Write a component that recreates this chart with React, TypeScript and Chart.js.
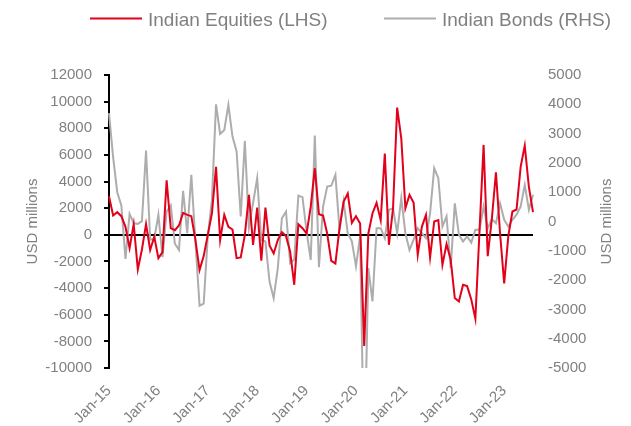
import React, { useEffect, useRef } from "react";
import { Chart, registerables } from "chart.js";

Chart.register(...registerables);

// ---- Data ----
const yearSuffixes = ["15", "16", "17", "18", "19", "20", "21", "22", "23"];
const monthNames = ["Jan", "Feb", "Mar", "Apr", "May", "Jun", "Jul", "Aug", "Sep", "Oct", "Nov", "Dec"];
const allMonths: string[] = [];
for (const y of yearSuffixes) for (const m of monthNames) allMonths.push(`${m}-${y}`);
// Jan-15 .. Aug-23
const categories: string[] = allMonths.slice(0, 104);

const equitiesLabel = "Indian Equities (LHS)";
const bondsLabel = "Indian Bonds (RHS)";
const axisTitle = "USD millions";

const indianEquities: number[] = [
  2900, 1450, 1700, 1400, 600, -1000, 800, -2600, -1100, 800, -1150, -150,
  -1750, -1300, 4100, 500, 350, 700, 1650, 1500, 1400, -400, -2650, -1600,
  0, 1600, 5100, -400, 1500, 600, 400, -1750, -1700, 0, 3000, -750,
  2050, -1950, 2050, -800, -1400, -400, 200, -100, -1250, -3750, 800, 500,
  100, 2100, 5000, 1550, 1450, 100, -1950, -2150, 500, 2500, 3100, 900,
  1400, 850, -8350, 100, 1600, 2400, 1100, 6100, -750, 2000, 9550, 7250,
  2000, 3000, 2400, -1500, 600, 1500, -1700, 1000, 1100, -2250, -700, -1850,
  -4750, -5000, -3750, -3850, -4850, -6300, 250, 6750, -1600, 1200, 4700, 100,
  -3650, -100, 1750, 1900, 5100, 6700, 3600, 1700,
];

const indianBonds: number[] = [
  3700, 2200, 1000, 550, -1280, 260, -60, -80, 10, 2420, -620, -590,
  230, -1220, 340, 550, -760, -970, 1050, -400, 1590, -700, -2870, -2800,
  -500, 740, 4000, 2990, 3120, 3980, 2900, 2390, 170, 2750, -200, 630,
  1480, -630, -680, -2050, -2620, -1600, 110, 340, -1420, -1300, 880, 830,
  -340, -1310, 2930, -1560, 510, 1190, 1220, 1590, -280, 680, -400, -680,
  -1530, -500, -8500, -1590, -2730, -230, -230, -570, 400, 450, -400, 800,
  -400, -970, -620, -230, -400, -570, 280, 1820, 1480, -170, 170, -1590,
  620, -450, -680, -510, -720, -280, -280, 510, -230, 80, -60, 620,
  60, -170, 60, 230, 510, 1250, 400, 910,
];

const leftTicks = { min: -10000, max: 12000, step: 2000 };
const rightTicks = { min: -5000, max: 5000, step: 1000 };

// ---- Styles ----
const RED = "#E2001A";
const GREY = "#ADADAD";
const TEXT = "#808080";
const FONT_FAMILY = "'Liberation Sans', Arial, Helvetica, sans-serif";

const legendPlugin = {
  id: "customLegend",
  afterDraw(chart: any) {
    const ctx = chart.ctx as CanvasRenderingContext2D;
    const items = [
      { ds: 0, lineX: 90, textX: 148 },
      { ds: 1, lineX: 384, textX: 442 },
    ];
    ctx.save();
    for (const it of items) {
      const ds = chart.data.datasets[it.ds];
      ctx.strokeStyle = ds.borderColor;
      ctx.lineWidth = 2;
      ctx.beginPath();
      ctx.moveTo(it.lineX, 18.5);
      ctx.lineTo(it.lineX + 52, 18.5);
      ctx.stroke();
      ctx.fillStyle = TEXT;
      ctx.font = `19px ${FONT_FAMILY}`;
      ctx.textBaseline = "alphabetic";
      ctx.textAlign = "left";
      ctx.fillText(ds.label, it.textX, 26);
    }
    // right axis title, reading bottom-to-top like the left one
    const area = chart.chartArea;
    ctx.translate(607, (area.top + area.bottom) / 2);
    ctx.rotate(-Math.PI / 2);
    ctx.font = `15px ${FONT_FAMILY}`;
    ctx.textAlign = "center";
    ctx.textBaseline = "middle";
    ctx.fillText(axisTitle, 0, 0);
    ctx.restore();
  },
};

const plain = (v: any) => String(v);

export default function App() {
  const canvasRef = useRef<HTMLCanvasElement | null>(null);

  useEffect(() => {
    if (!canvasRef.current) return;
    const tickFont = { family: FONT_FAMILY, size: 15 };
    const chart = new Chart(canvasRef.current, {
      type: "line",
      data: {
        labels: categories,
        datasets: [
          {
            label: equitiesLabel,
            data: indianEquities,
            borderColor: RED,
            backgroundColor: RED,
            borderWidth: 2,
            pointRadius: 0,
            tension: 0,
            yAxisID: "y",
          },
          {
            label: bondsLabel,
            data: indianBonds,
            borderColor: GREY,
            backgroundColor: GREY,
            borderWidth: 2,
            pointRadius: 0,
            tension: 0,
            yAxisID: "y1",
          },
        ],
      },
      options: {
        responsive: false,
        animation: false,
        events: [],
        layout: { padding: { top: 75, left: 0, right: 0, bottom: 0 } },
        plugins: {
          legend: { display: false },
          tooltip: { enabled: false },
        },
        scales: {
          x: {
            type: "category",
            offset: false,
            grid: { display: false, drawTicks: false },
            border: { display: false },
            ticks: {
              autoSkip: false,
              maxRotation: 45,
              minRotation: 45,
              padding: 14,
              font: tickFont,
              color: TEXT,
              callback: (_v: any, index: number) => {
                const l = categories[index];
                return l && l.startsWith("Jan") ? l : null;
              },
            },
            afterFit: (s: any) => {
              s.height = 58;
            },
          },
          y: {
            position: "left",
            min: leftTicks.min,
            max: leftTicks.max,
            ticks: {
              stepSize: leftTicks.step,
              padding: 12,
              font: tickFont,
              color: TEXT,
              callback: plain,
            },
            grid: {
              drawOnChartArea: true,
              drawTicks: true,
              tickLength: 5,
              lineWidth: 2,
              tickColor: "#000",
              color: (c: any) => (c.tick && c.tick.value === 0 ? "#000" : "rgba(0,0,0,0)"),
            },
            border: { display: true, color: "#000", width: 2 },
            title: {
              display: true,
              text: axisTitle,
              color: TEXT,
              font: { family: FONT_FAMILY, size: 15 },
              padding: { top: 24, bottom: 0 },
            },
            afterFit: (s: any) => {
              s.width = 109;
            },
          },
          y1: {
            position: "right",
            min: rightTicks.min,
            max: rightTicks.max,
            ticks: {
              stepSize: rightTicks.step,
              padding: 15,
              font: tickFont,
              color: TEXT,
              callback: plain,
            },
            grid: { display: false, drawTicks: false },
            border: { display: false },
            title: { display: false },
            afterFit: (s: any) => {
              s.width = 98;
            },
          },
        },
      } as any,
      plugins: [legendPlugin],
    });
    return () => chart.destroy();
  }, []);

  return (
    <div style={{ position: "fixed", left: 0, top: 0, width: 631, height: 426, background: "#fff" }}>
      <canvas ref={canvasRef} width={631} height={426} />
    </div>
  );
}
